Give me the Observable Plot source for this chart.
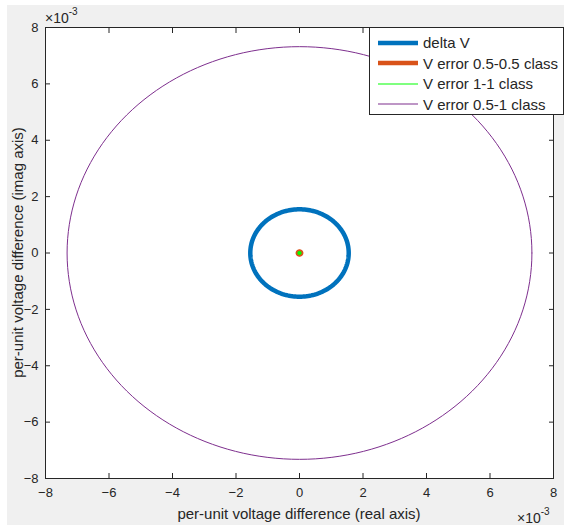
<!DOCTYPE html>
<html>
<head>
<meta charset="utf-8">
<script src="https://cdn.jsdelivr.net/npm/d3@7"></script>
<script src="https://cdn.jsdelivr.net/npm/@observablehq/plot@0.6"></script>
<style>
  html, body { margin: 0; padding: 0; background: white; }
  body { width: 564px; height: 527px; overflow: hidden; font-family: "Liberation Sans", Arial, Helvetica, sans-serif; color: #262626; }
  #wrap { position: relative; width: 564px; height: 527px; }
  #bg { position: absolute; left: 7px; top: 5px; width: 557px; height: 520px; background: #f0f0f0; }
  #chart { position: absolute; left: 0; top: 0; }
  .exp { position: absolute; font-size: 14px; line-height: 1; white-space: nowrap; }
  .exp sup { font-size: 10px; position: relative; top: -2px; }
  .axlabel { position: absolute; font-size: 15px; line-height: 1; white-space: nowrap; }
  #legend { position: absolute; left: 369px; top: 27px; width: 193px; height: 86px; border: 1px solid #262626; background: white; font-size: 15px; }
  .row { position: absolute; left: 0; width: 193px; height: 20px; display: flex; align-items: center; }
  .row svg { margin-left: 8px; flex: none; }
  .row span { margin-left: 5px; white-space: nowrap; flex: none; }
</style>
</head>
<body>
<div id="wrap">
  <div id="bg"></div>
  <div id="chart"></div>
  <div class="exp" style="left:45px; top:9px;">×10<sup>-3</sup></div>
  <div class="exp" style="left:517px; top:509px;">×10<sup>-3</sup></div>
  <div class="axlabel" id="xlab"></div>
  <div class="axlabel" id="ylab"></div>
  <div id="legend"></div>
</div>
<script>
// Values in units of 1e-3 (per-unit)
const series = ["delta V", "V error 0.5-0.5 class", "V error 1-1 class", "V error 0.5-1 class"];
const radii = [1.55, 0.06, 0.035, 7.32];
const colors = ["#0072BD", "#D95319", "#00FF00", "#7E2F8E"];
const widths = [4.5, 4, 2, 1];
const ticks = [-8, -6, -4, -2, 0, 2, 4, 6, 8];
const xLabel = "per-unit voltage difference (real axis)";
const yLabel = "per-unit voltage difference (imag axis)";
const angleDeg = d3.range(0, 361, 2);

const data = [];
series.forEach((s, i) => {
  angleDeg.forEach(a => {
    const t = a * Math.PI / 180;
    data.push({series: s, x: radii[i] * Math.cos(t), y: radii[i] * Math.sin(t)});
  });
});

const ink = "#262626";
const plot = Plot.plot({
  width: 564,
  height: 527,
  marginLeft: 45,
  marginRight: 11,
  marginTop: 27,
  marginBottom: 49,
  style: {background: "transparent", fontFamily: '"Liberation Sans", Arial, Helvetica, sans-serif', color: ink},
  x: {domain: [-8, 8]},
  y: {domain: [-8, 8]},
  marks: [
    Plot.frame({fill: "white", stroke: null}),
    ...series.map((s, i) => Plot.line(data.filter(d => d.series === s), {
      x: "x", y: "y", stroke: colors[i], strokeWidth: widths[i], curve: "linear"
    })),
    Plot.axisX({anchor: "bottom", ticks, tickSize: -5, tickFormat: () => "", label: null, stroke: ink}),
    Plot.axisX({anchor: "top", ticks, tickSize: -5, tickFormat: () => "", label: null, stroke: ink}),
    Plot.axisY({anchor: "left", ticks, tickSize: -5, tickFormat: () => "", label: null, stroke: ink}),
    Plot.axisY({anchor: "right", ticks, tickSize: -5, tickFormat: () => "", label: null, stroke: ink}),
    Plot.axisX({anchor: "bottom", ticks, tickSize: 0, tickPadding: 9, fontSize: 13, fill: ink, label: null}),
    Plot.axisY({anchor: "left", ticks, tickSize: 0, tickPadding: 7, fontSize: 13, fill: ink, label: null}),
    Plot.frame({stroke: ink, strokeWidth: 1})
  ]
});
document.getElementById("chart").appendChild(plot);

// Axis labels
const xl = document.getElementById("xlab");
xl.textContent = xLabel;
const yl = document.getElementById("ylab");
yl.textContent = yLabel;
const rx = xl.getBoundingClientRect();
xl.style.left = (299 - rx.width / 2) + "px";
xl.style.top = (513 - rx.height / 2) + "px";
const ry = yl.getBoundingClientRect();
yl.style.left = (17 - ry.width / 2) + "px";
yl.style.top = (252 - ry.height / 2) + "px";
yl.style.transform = "rotate(-90deg)";
yl.style.transformOrigin = "50% 50%";

// Legend
const legend = document.getElementById("legend");
const rowCenters = [14.5, 35, 55.5, 76];
series.forEach((s, i) => {
  const row = document.createElement("div");
  row.className = "row";
  row.style.top = (rowCenters[i] - 10) + "px";
  row.innerHTML = `<svg width="40" height="8"><line x1="0" x2="40" y1="4" y2="4" stroke="${colors[i]}" stroke-width="${i < 2 ? 4.5 : 1.2}"/></svg><span>${s}</span>`;
  legend.appendChild(row);
});
</script>
</body>
</html>
